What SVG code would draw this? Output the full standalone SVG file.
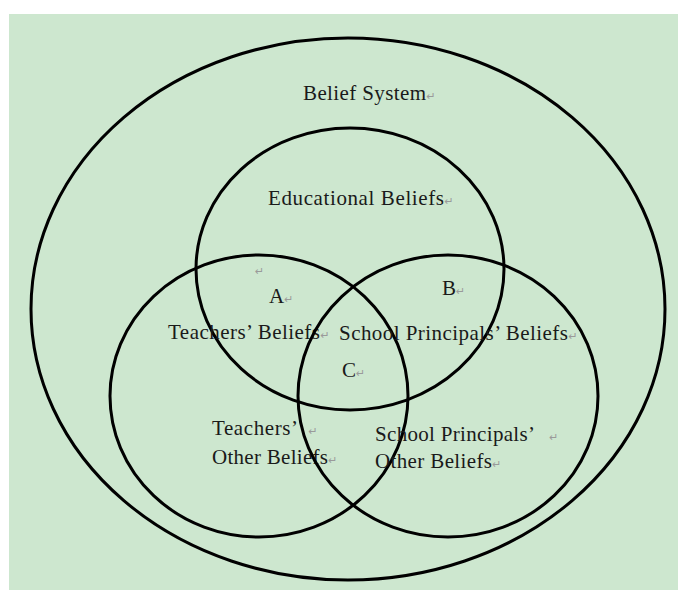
<svg xmlns="http://www.w3.org/2000/svg" width="678" height="590" viewBox="0 0 678 590">
  <style>
    .ring { fill: none; stroke: #000; stroke-width: 3; }
    .lbl { font-family: "Liberation Serif", "Times New Roman", serif; font-size: 21px; fill: #1a1a1a; }
    .ret { font-family: "DejaVu Sans", sans-serif; font-size: 11px; fill: #9a9a9a; }
  </style>
  <rect x="0" y="0" width="678" height="590" fill="#ffffff"/>
  <rect x="9" y="14" width="669" height="576" fill="#cde7cf"/>
  <g id="belief-system">
    <ellipse class="ring" cx="348" cy="309" rx="317" ry="271"/>
    <text class="lbl" x="303" y="100"><tspan textLength="123" lengthAdjust="spacing">Belief System</tspan><tspan class="ret">↵</tspan></text>
  </g>
  <g id="educational-beliefs">
    <ellipse class="ring" cx="350" cy="269" rx="154" ry="141"/>
    <text class="lbl" x="268" y="205"><tspan textLength="176" lengthAdjust="spacing">Educational Beliefs</tspan><tspan class="ret">↵</tspan></text>
    <text class="ret" x="255" y="275">↵</text>
  </g>
  <g id="teachers-beliefs">
    <ellipse class="ring" cx="259" cy="396" rx="149" ry="141"/>
    <text class="lbl" x="168" y="339"><tspan textLength="152" lengthAdjust="spacing">Teachers’ Beliefs</tspan><tspan class="ret">↵</tspan></text>
    <text class="lbl" x="212" y="435"><tspan textLength="86" lengthAdjust="spacing">Teachers’</tspan><tspan class="ret" dx="10">↵</tspan></text>
    <text class="lbl" x="212" y="464"><tspan textLength="116" lengthAdjust="spacing">Other Beliefs</tspan><tspan class="ret">↵</tspan></text>
  </g>
  <g id="principals-beliefs">
    <ellipse class="ring" cx="448" cy="396" rx="150" ry="141"/>
    <text class="lbl" x="339" y="340"><tspan textLength="229" lengthAdjust="spacing">School Principals’ Beliefs</tspan><tspan class="ret">↵</tspan></text>
    <text class="lbl" x="375" y="441"><tspan textLength="160" lengthAdjust="spacing">School Principals’</tspan><tspan class="ret" dx="14">↵</tspan></text>
    <text class="lbl" x="375" y="468"><tspan textLength="117" lengthAdjust="spacing">Other Beliefs</tspan><tspan class="ret">↵</tspan></text>
  </g>
  <g id="region-labels">
    <text class="lbl" x="269" y="303">A<tspan class="ret">↵</tspan></text>
    <text class="lbl" x="442" y="295">B<tspan class="ret">↵</tspan></text>
    <text class="lbl" x="342" y="377">C<tspan class="ret">↵</tspan></text>
  </g>
  <g id="connectors"></g>
</svg>
